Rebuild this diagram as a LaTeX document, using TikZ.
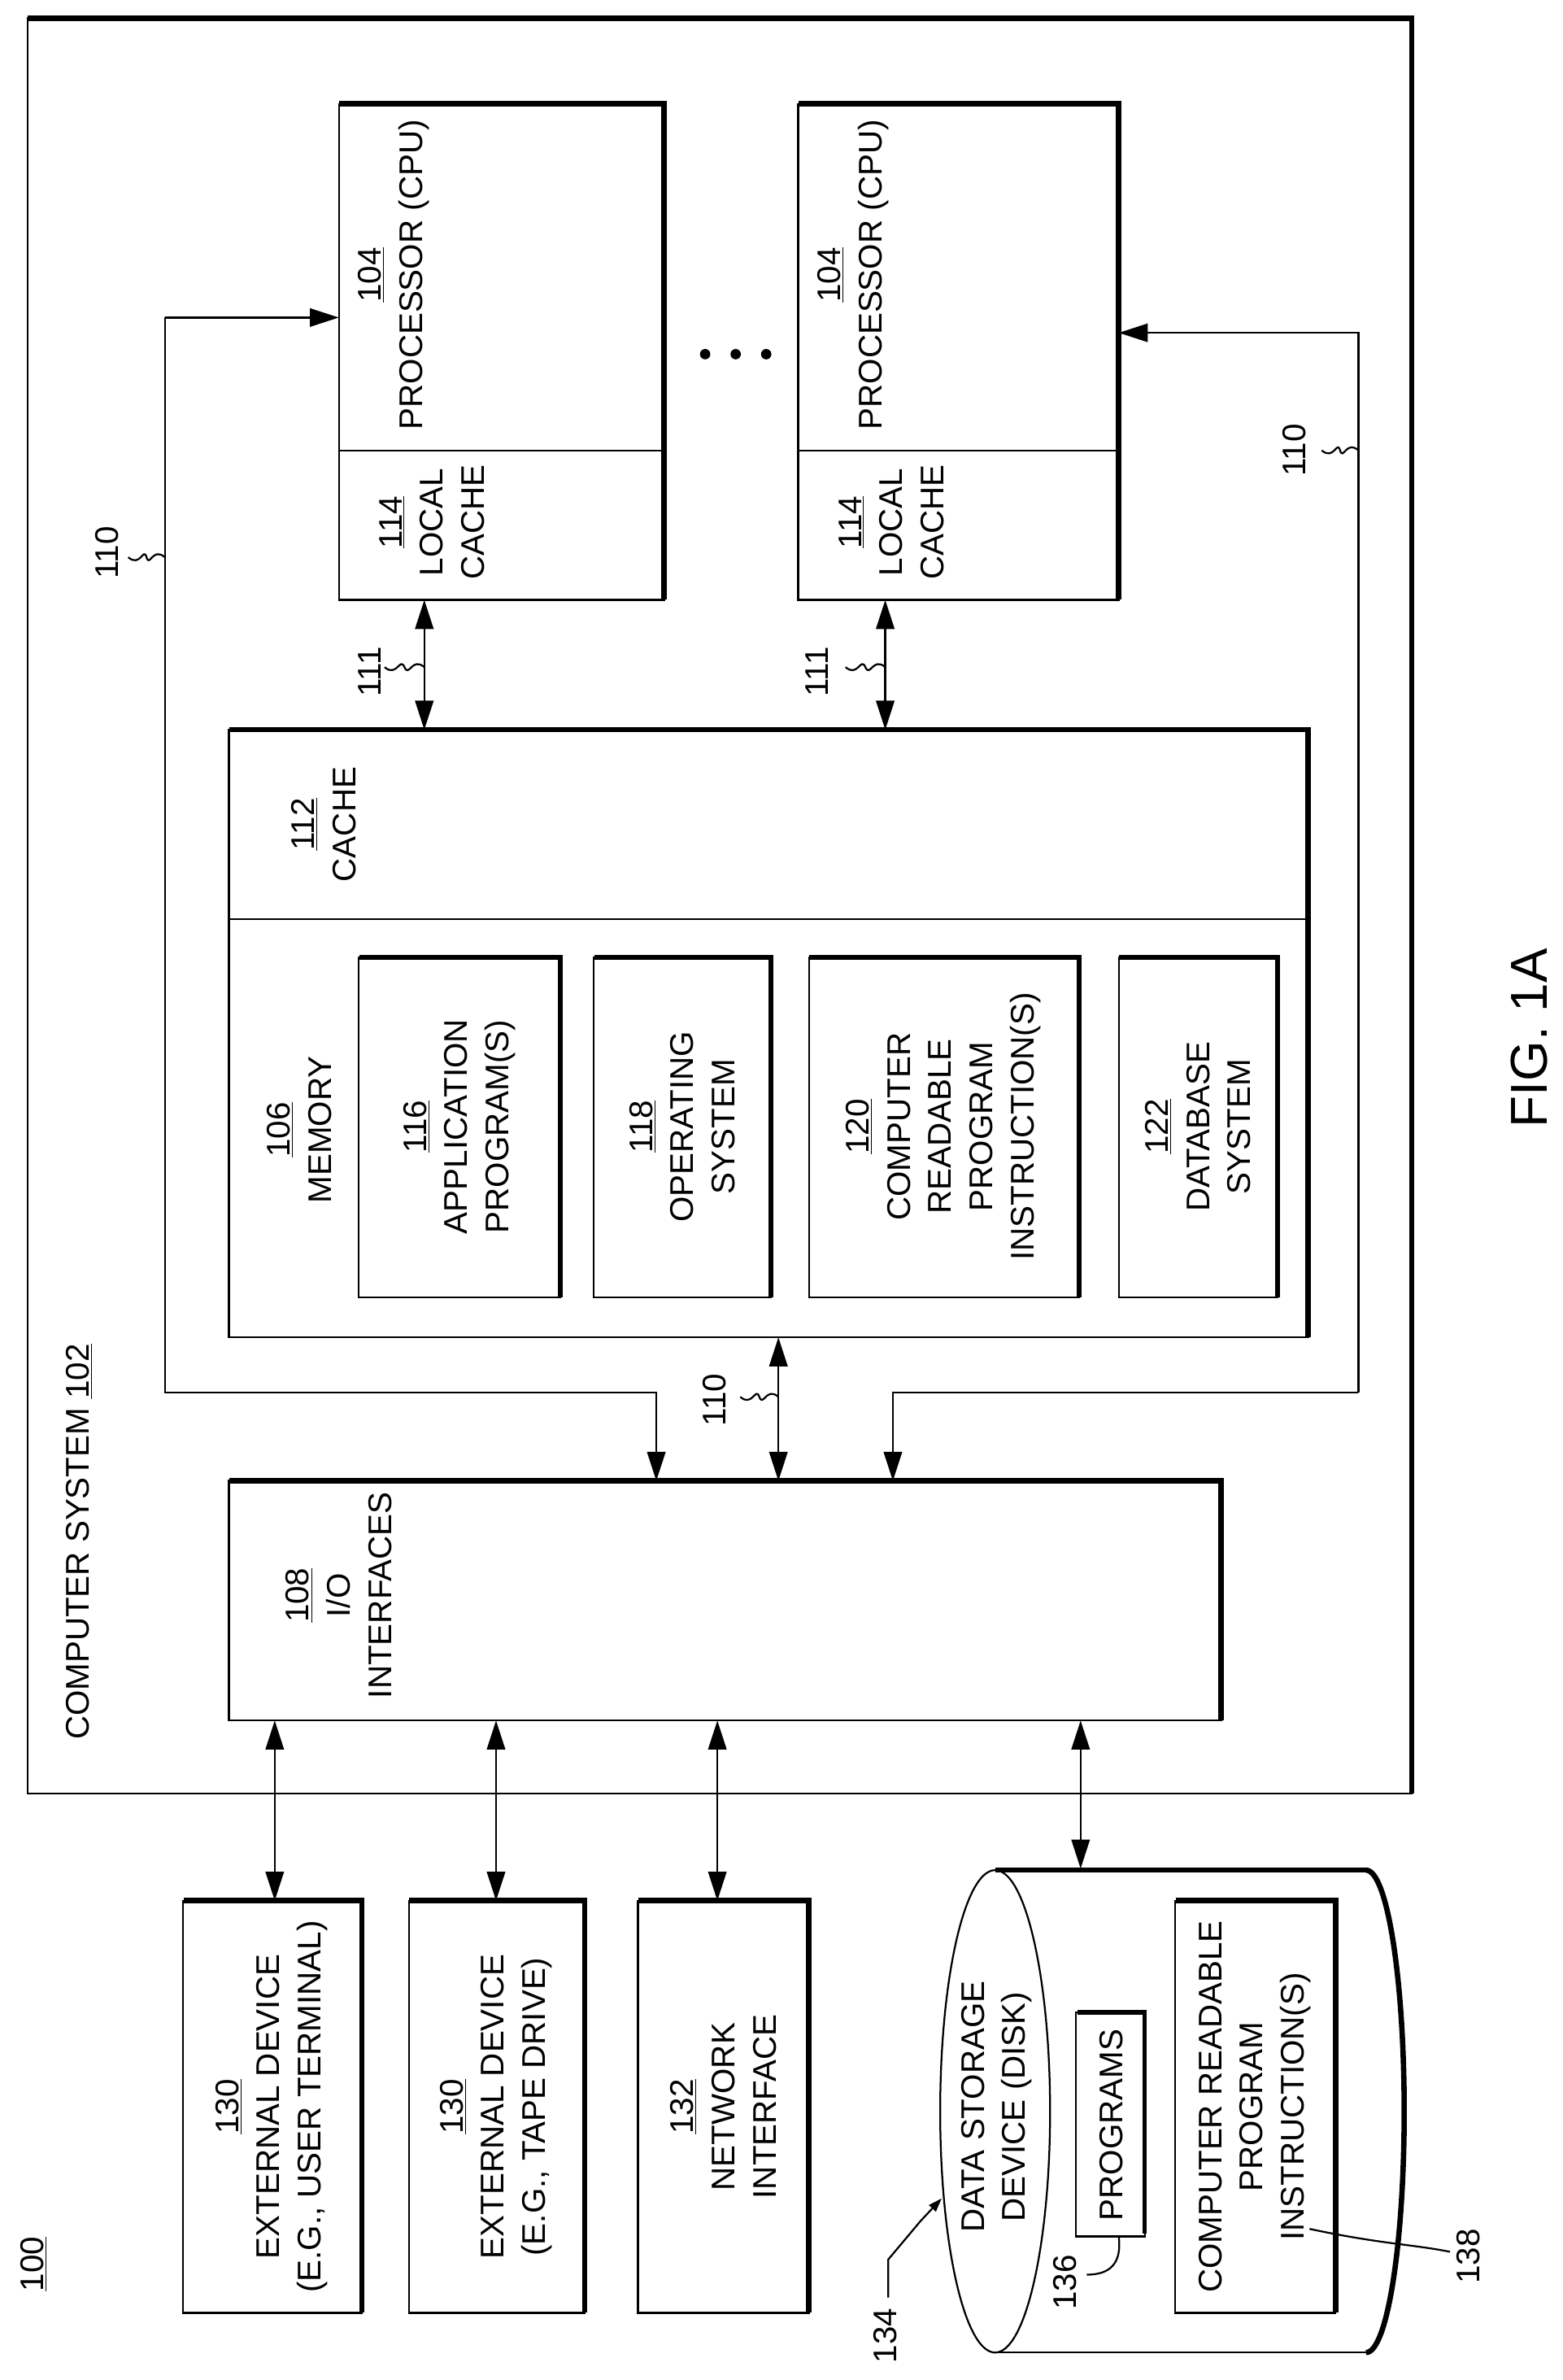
\documentclass[tikz,border=0pt]{standalone}
\usepackage{fontspec}
\setmainfont{Liberation Sans}
\usetikzlibrary{arrows.meta}
\newcommand\shb[4]{\draw[thin] (#1,#2) rectangle (#3,#4);
 \draw[line width=3.5pt,line cap=rect] (#1+2,#2) -- (#3,#2) -- (#3,#4-2);}
\newcommand\sq[3]{\draw[thin] (#1,#3) .. controls (#1+8,#3+7) and (#1+10,#3-7) .. (#1/2+#2/2,#3) .. controls (#2-10,#3+7) and (#2-8,#3-7) .. (#2,#3);}
\begin{document}
\begin{tikzpicture}[x=1pt,y=-1pt,thin/.style={line width=1.2pt},
 every node/.style={font=\fontsize{21.5}{27}\selectfont,align=center,inner sep=0pt},
 r/.style={rotate=90},
 arr/.style={thin,-{Triangle[length=19pt,width=12pt]}},
 darr/.style={thin,{Triangle[length=19pt,width=12pt]}-{Triangle[length=19pt,width=12pt]}}]
\useasboundingbox (0,0) rectangle (1024,1559);
% outer
\draw[thin] (18,12) rectangle (925,1175);
\draw[line width=3.5pt] (18,12) -- (925,12) -- (925,1175);
\node[r] (cs) at (52,1010) {COMPUTER SYSTEM \underline{102}};
\node[r] (n100) at (22,1483) {\underline{100}};
% processors
\shb{222}{68}{435}{393}
\draw[thin] (222,295) -- (435,295);
\node[r] (p1) at (258,180) {\underline{104}\\PROCESSOR (CPU)};
\node[r] (c1) at (283,342) {\underline{114}\\LOCAL\\CACHE};
\shb{523}{68}{733}{393}
\draw[thin] (523,295) -- (733,295);
\node[r] (p2) at (559,180) {\underline{104}\\PROCESSOR (CPU)};
\node[r] (c2) at (584,342) {\underline{114}\\LOCAL\\CACHE};
\foreach \x in {462,482,502} \fill (\x,232) circle (3.4);
% cache/memory
\shb{150}{478}{857}{876}
\draw[thin] (150,602) -- (857,602);
\node[r] (cache) at (212,540) {\underline{112}\\CACHE};
\node[r] (mem) at (196,740) {\underline{106}\\MEMORY};
\shb{235}{627}{367}{850}
\node[r] at (301,738) {\underline{116}\\APPLICATION\\PROGRAM(S)};
\shb{389}{627}{505}{850}
\node[r] at (447,738) {\underline{118}\\OPERATING\\SYSTEM};
\shb{530}{627}{707}{850}
\node[r] at (618,738) {\underline{120}\\COMPUTER\\READABLE\\PROGRAM\\INSTRUCTION(S)};
\shb{733}{627}{837}{850}
\node[r] at (785,738) {\underline{122}\\DATABASE\\SYSTEM};
% io
\shb{150}{970}{800}{1127}
\node[r] (io) at (222,1045) {\underline{108}\\I/O\\INTERFACES};
% buses
\draw[arr] (108,208) -- (222,208);
\draw[arr] (108,208) -- (108,912) -- (430,912) -- (430,970);
\draw[arr] (890,912) -- (585,912) -- (585,970);
\draw[arr] (890,912) -- (890,218) -- (733,218);
\draw[darr] (510,876) -- (510,970);
\draw[darr] (278,393) -- (278,478);
\draw[darr] (580,393) -- (580,478);
\node[r] at (242,440) {111}; \sq{252}{278}{437}
\node[r] at (535,440) {111}; \sq{554}{580}{437}
\node[r] at (70,362) {110}; \sq{84}{108}{365}
\node[r] at (848,295) {110}; \sq{866}{890}{295}
\node[r] at (468,917) {110}; \sq{485}{510}{915}
% externals
\draw[darr] (180,1127) -- (180,1245);
\draw[darr] (325,1127) -- (325,1245);
\draw[darr] (470,1127) -- (470,1245);
\draw[darr] (708,1127) -- (708,1224);
\shb{120}{1245}{237}{1515}
\node[r] at (178,1380) {\underline{130}\\EXTERNAL DEVICE\\(E.G., USER TERMINAL)};
\shb{268}{1245}{383}{1515}
\node[r] at (325,1380) {\underline{130}\\EXTERNAL DEVICE\\(E.G., TAPE DRIVE)};
\shb{418}{1245}{530}{1515}
\node[r] at (474,1380) {\underline{132}\\NETWORK\\INTERFACE};
% disk
\draw[thin] (652,1383) ellipse (36 and 158);
\draw[line width=3.5pt] (652,1225) -- (895,1225);
\draw[thin] (652,1541) -- (895,1541);
\draw[line width=3.5pt] (895,1225) arc (-90:90:25 and 158);
\node[r] at (653,1380) {DATA STORAGE\\DEVICE (DISK)};
\draw[thin] (705,1318) rectangle (750,1465);
\draw[line width=3pt] (706,1318) -- (750,1318) -- (750,1463);
\node[r] at (728,1392) {PROGRAMS};
\shb{770}{1245}{875}{1515}
\node[r] at (822,1380) {COMPUTER READABLE\\PROGRAM\\INSTRUCTION(S)};
\node[r] at (698,1495) {136};
\draw[thin] (733,1465) .. controls (735,1482) and (728,1490) .. (712,1490);
\node[r] at (962,1478) {138};
\draw[thin] (950,1475) .. controls (925,1470) and (905,1470) .. (858,1460);
\node[r] at (580,1530) {134};
\draw[thin,-{Triangle[length=9pt,width=6pt]}] (582,1505) -- (582,1480) -- (603,1455) -- (617,1440);
\node[r,font=\fontsize{34}{36}\selectfont] at (1002,680) {FIG. 1A};
\end{tikzpicture}
\end{document}
